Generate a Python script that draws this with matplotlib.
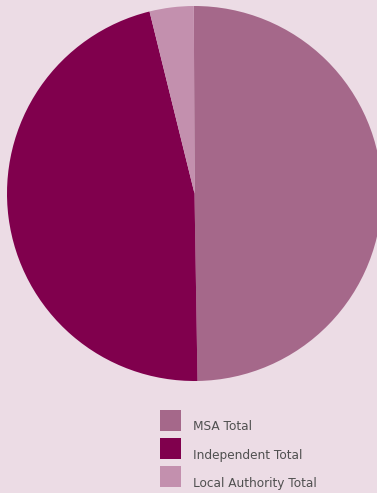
import matplotlib.pyplot as plt
from matplotlib.patches import Rectangle

labels = ["MSA Total", "Independent Total", "Local Authority Total"]
shares = [49.8, 46.4, 3.8]
colors = ["#a5688a", "#80004d", "#c390ae"]
bg = "#ecdce5"

W, H = 377, 493
fig = plt.figure(figsize=(W / 100, H / 100), dpi=100, facecolor=bg)
ax = fig.add_axes([7/W, 112/H, 375/W, 375/H])
ax.set_facecolor(bg)
ax.pie(shares, colors=colors, startangle=90.2, counterclock=False,
       wedgeprops=dict(linewidth=0), radius=1)
ax.set_xlim(-1, 1)
ax.set_ylim(-1, 1)
ax.set_aspect("equal")
ax.axis("off")

# legend drawn by hand: 21px squares, label sits on the square's bottom
for i, (lab, c) in enumerate(zip(labels, colors)):
    top = 410 + 28 * i
    fig.add_artist(Rectangle((160 / W, 1 - (top + 21) / H), 21 / W, 21 / H,
                             transform=fig.transFigure, facecolor=c, edgecolor="none"))
    fig.text(193 / W, 1 - (top + 20.5) / H, lab, fontsize=8.7, color="#505050",
             ha="left", va="baseline")

fig.savefig("out.png", dpi=100, facecolor=bg)
